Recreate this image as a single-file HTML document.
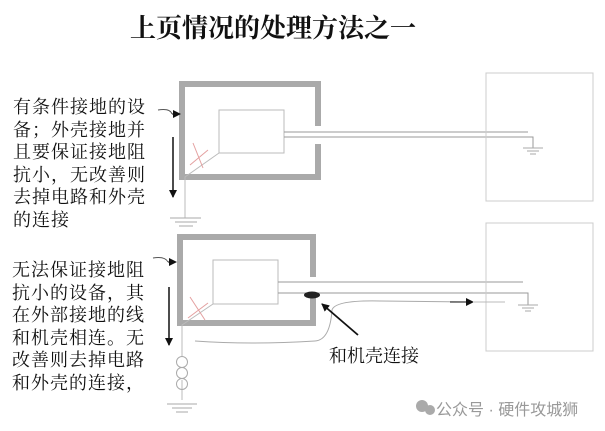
<!DOCTYPE html>
<html><head><meta charset="utf-8"><style>
body{margin:0;width:605px;height:431px;background:#fff;position:relative;overflow:hidden;font-family:"Liberation Serif","Noto Serif CJK SC",serif;}
.t{position:absolute;white-space:nowrap;color:#111;}
.p{font-size:18px;letter-spacing:1px;line-height:22.5px;}
</style></head><body>
<div class="t" style="left:130px;top:8px;font-size:26px;font-weight:bold;">上页情况的处理方法之一</div>
<div class="t p" style="left:13px;top:96px;">有条件接地的设<br>备；外壳接地并<br>且要保证接地阻<br>抗小，无改善则<br>去掉电路和外壳<br>的连接</div>
<div class="t p" style="left:12px;top:259px;">无法保证接地阻<br>抗小的设备，其<br>在外部接地的线<br>和机壳相连。无<br>改善则去掉电路<br>和外壳的连接，</div>
<div class="t" style="left:329px;top:342px;font-size:18px;">和机壳连接</div>
<div class="t" style="left:436px;top:396px;font-size:16px;color:#999;font-family:'Liberation Sans','Noto Sans CJK SC',sans-serif;">公众号 · 硬件攻城狮</div>
<svg width="605" height="431" style="position:absolute;left:0;top:0" fill="none">
<defs><marker id="a" markerWidth="8" markerHeight="8" refX="7" refY="4" orient="auto" markerUnits="userSpaceOnUse"><path d="M0,0 L8,4 L0,8z" fill="#111"/></marker></defs>
<path d="M318,126 V84 H182 V177 H318 V144" stroke="#aaa" stroke-width="6"/>
<rect x="219" y="110" width="65" height="43" stroke="#bbb"/>
<path d="M284,132 H528 M284,137 H533 V148" stroke="#999"/>
<path d="M523,148 H543 M527,151 H539 M530,154 H536" stroke="#aaa"/>
<rect x="486" y="73" width="107" height="128" stroke="#ccc"/>
<path d="M219,153 L185,177 V218" stroke="#bbb"/>
<path d="M170,218 H201 M175,222 H197 M179,226 H193" stroke="#aaa"/>
<path d="M193,143 L203,168 M190,165 L208,150" stroke="#e4a0a0"/>
<path d="M158,110 Q170,108 172,114" stroke="#555"/>
<path d="M172,114 H180" stroke="#111" marker-end="url(#a)"/>
<path d="M173,137 V197" stroke="#111" stroke-width="1.5" marker-end="url(#a)"/>
<path d="M313,277 V237 H180 V323 H313 V295" stroke="#aaa" stroke-width="6"/>
<rect x="213" y="260" width="65" height="44" stroke="#bbb"/>
<path d="M278,282 H523 M278,293 H528 V305" stroke="#999"/>
<path d="M518,305 H538 M522,308 H534 M525,311 H531" stroke="#aaa"/>
<rect x="486" y="223" width="107" height="128" stroke="#ccc"/>
<ellipse cx="312" cy="295" rx="8" ry="3.5" fill="#222"/>
<path d="M213,304 L182,325 V357 M182,380 V400" stroke="#bbb"/>
<circle cx="182" cy="362" r="5.5" stroke="#aaa"/><circle cx="182" cy="373" r="5.5" stroke="#aaa"/><circle cx="182" cy="384" r="5.5" stroke="#aaa"/>
<path d="M167,404 H197 M172,408 H192 M176,412 H188" stroke="#aaa"/>
<path d="M190,297 L205,320 M188,318 L208,303" stroke="#e4a0a0"/>
<path d="M195,341 Q250,345 315,341 Q330,340 332,310 Q335,300 380,301 L470,302" stroke="#aaa"/>
<path d="M450,302 H473" stroke="#111" marker-end="url(#a)"/>
<path d="M473,302 H505" stroke="#bbb"/>
<path d="M358,335 L322,304" stroke="#111" stroke-width="1.8" marker-end="url(#a)"/>
<path d="M153,258 Q165,256 168,262" stroke="#555"/>
<path d="M168,262 H176" stroke="#111" marker-end="url(#a)"/>
<path d="M169,287 V345" stroke="#111" stroke-width="1.5" marker-end="url(#a)"/>
<circle cx="422" cy="406" r="6" fill="#aaa"/><circle cx="430" cy="410" r="5" fill="#aaa"/>
</svg>
</body></html>
